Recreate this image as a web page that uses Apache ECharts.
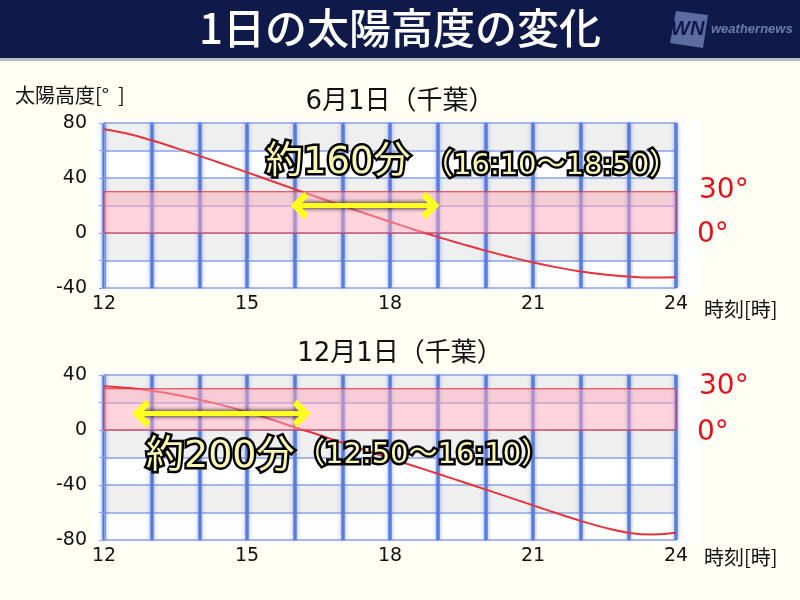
<!DOCTYPE html>
<html><head><meta charset="utf-8">
<script src="https://cdn.jsdelivr.net/npm/echarts@6/dist/echarts.min.js"></script>
<style>html,body{margin:0;padding:0;background:#fffef5}#c{width:800px;height:600px}</style>
</head><body><div id="c"></div><script>
// ---- data ----
const hours = [12,12.5,13,13.5,14,14.5,15,15.5,16,16.5,17,17.5,18,18.5,19,19.5,20,20.5,21,21.5,22,22.5,23,23.5,24];
const juneAlt = [75.5,72.2,67.4,61.9,56.1,50.2,44.1,38.0,31.9,25.8,19.9,14.0,8.2,2.6,-2.8,-7.9,-12.8,-17.3,-21.4,-25.0,-28.0,-30.2,-31.7,-32.4,-32.1];
const decAlt = [31.8,30.6,28.6,25.7,22.1,17.9,13.0,7.8,2.0,-3.5,-9.3,-15.0,-20.6,-26.2,-31.8,-37.5,-43.2,-49.0,-54.8,-60.6,-66.1,-71.0,-74.7,-76.0,-74.8];
const xTickLabels = [12,15,18,21,24];
const juneYLabels = [80,40,0,-40];
const decYLabels = [40,0,-40,-80];
const band = [0,30];
const juneRange = [16.1,18.85];
const juneArrowY = 20;
const decRange = [12.78,16.15];
const decArrowY = 12;
const juneTitle = '6月1日（千葉）';
const decTitle = '12月1日（千葉）';
const juneNote = ['約160分','（16:10～18:50）'];
const decNote = ['約200分','（12:50～16:10）'];

const FONT = '"Noto Sans CJK JP","Noto Sans",sans-serif';
const NFONT = '"DejaVu Sans","Noto Sans CJK JP",sans-serif';
const chart = echarts.init(document.getElementById('c'));

function xAxis(gi){
  return {type:'value', gridIndex:gi, min:12, max:24, interval:1,
    axisLine:{show:false}, axisTick:{show:false},
    axisLabel:{formatter:v=>xTickLabels.includes(v)?String(v):'', fontSize:19, color:'#111', margin:7, fontFamily:NFONT},
    splitLine:{show:true, lineStyle:{color:'#5a7ddc', width:3.5, shadowBlur:4, shadowColor:'rgba(70,110,230,0.6)'}}};
}
function yAxis(gi,min,max,labels){
  return {type:'value', gridIndex:gi, min:min, max:max, interval:20,
    axisLine:{show:true, lineStyle:{color:'#8aa2e6', width:1}},
    axisTick:{show:true, length:5, lineStyle:{color:'#8aa2e6'}},
    axisLabel:{formatter:v=>labels.includes(v)?String(v):'', fontSize:19, color:'#111', margin:17, fontFamily:NFONT},
    splitLine:{show:true, lineStyle:{color:'#8aa2e6', width:1.5}},
    splitArea:{show:true, areaStyle:{color:['#ffffff','#efefef']}}};
}
const chevron = 'path://M0,11 L10,0 L20,11 L16,14 L10,7 L4,14 Z';
function bandSeries(gi){
  return {type:'line', xAxisIndex:gi, yAxisIndex:gi, data:[], silent:true,
    markArea:{silent:true, z:10, itemStyle:{color:'rgba(255,170,188,0.5)', borderColor:'#e0303c', borderWidth:1},
      data:[[{yAxis:band[0]},{yAxis:band[1]}]]}};
}
function arrowSeries(gi,range,y){
  return {type:'line', xAxisIndex:gi, yAxisIndex:gi, data:[], silent:true,
    markLine:{silent:true, z:12, symbol:[chevron,chevron], symbolSize:[28,18],
      label:{show:false},
      lineStyle:{type:'solid', color:'#ffff1e', width:5, shadowBlur:5, shadowColor:'#000'},
      data:[[{coord:[range[0],y]},{coord:[range[1],y]}]]}};
}
function curve(gi,vals){
  return {type:'line', xAxisIndex:gi, yAxisIndex:gi, z:3, smooth:true, showSymbol:false, silent:true,
    lineStyle:{color:'#e8323c', width:2}, data:hours.map((h,i)=>[h,vals[i]])};
}
function glowText(x,y,text,size){
  const base = {text:text, font:size+'px '+NFONT, align:'left', verticalAlign:'top'};
  return [
    {type:'text', x:x, y:y, z:100, style:Object.assign({fill:'#000', stroke:'#000', lineWidth:5, lineJoin:'round', shadowBlur:7, shadowColor:'#000'}, base)},
    {type:'text', x:x, y:y, z:101, style:Object.assign({fill:'#fbf7b0'}, base)}
  ];
}
function plain(x,y,text,size,color,fam){
  return {type:'text', left:x, top:y, z:50, style:{text:text, fill:color, font:size+'px '+(fam||NFONT)}};
}

const graphics = [
  {type:'rect', left:0, top:0, z:0, shape:{width:800,height:58}, style:{fill:'#0f1a4b'}},
  {type:'rect', left:0, top:58, z:0, shape:{width:800,height:3}, style:{fill:'#b9b9c4'}},
  {type:'rect', left:93, top:119, z:-10, shape:{width:607,height:174}, style:{fill:'#ffffff'}},
  {type:'rect', left:93, top:371, z:-10, shape:{width:607,height:174}, style:{fill:'#ffffff'}},
  {type:'text', left:'center', top:7, z:5, style:{text:'1日の太陽高度の変化', fill:'#fff', font:'500 42px '+FONT, shadowBlur:3, shadowColor:'rgba(0,0,0,0.6)', shadowOffsetX:1, shadowOffsetY:1}},
  {type:'polygon', z:5, shape:{points:[[676,11],[708,15],[703,48],[670,43]]}, style:{fill:'#5c6ba0'}},
  {type:'text', left:671, top:19, z:6, style:{text:'WN', fill:'#0f1a4b', font:'italic bold 20px "Liberation Sans",sans-serif'}},
  {type:'text', left:711, top:23, z:6, style:{text:'weathernews', fill:'#6d7bab', font:'italic bold 13px "Liberation Sans",sans-serif'}},
  plain(15,85,'太陽高度[°  ]',20,'#111',FONT),
  plain('center',89,juneTitle,26,'#111'),
  plain('center',341,decTitle,26,'#111'),
  plain(704,299,'時刻[時]',20,'#111',FONT),
  plain(704,547,'時刻[時]',20,'#111',FONT),
  plain(699,177,'30°',28,'#e5101a'),
  plain(697,221,'0°',28,'#e5101a'),
  plain(699,373,'30°',28,'#e5101a'),
  plain(697,419,'0°',28,'#e5101a'),
  ...glowText(266,145,juneNote[0],37),
  ...glowText(424,152,juneNote[1],29),
  ...glowText(146,438,decNote[0],38),
  ...glowText(296,441,decNote[1],29)
];

chart.setOption({
  backgroundColor:'#fffef5',
  animation:false,
  grid:[{left:104,right:124,top:123,height:165},{left:104,right:124,top:375,height:165}],
  xAxis:[xAxis(0),xAxis(1)],
  yAxis:[yAxis(0,-40,80,juneYLabels), yAxis(1,-80,40,decYLabels)],
  series:[curve(0,juneAlt), bandSeries(0), arrowSeries(0,juneRange,juneArrowY),
          curve(1,decAlt), bandSeries(1), arrowSeries(1,decRange,decArrowY)],
  graphic:graphics
});
</script></body></html>
